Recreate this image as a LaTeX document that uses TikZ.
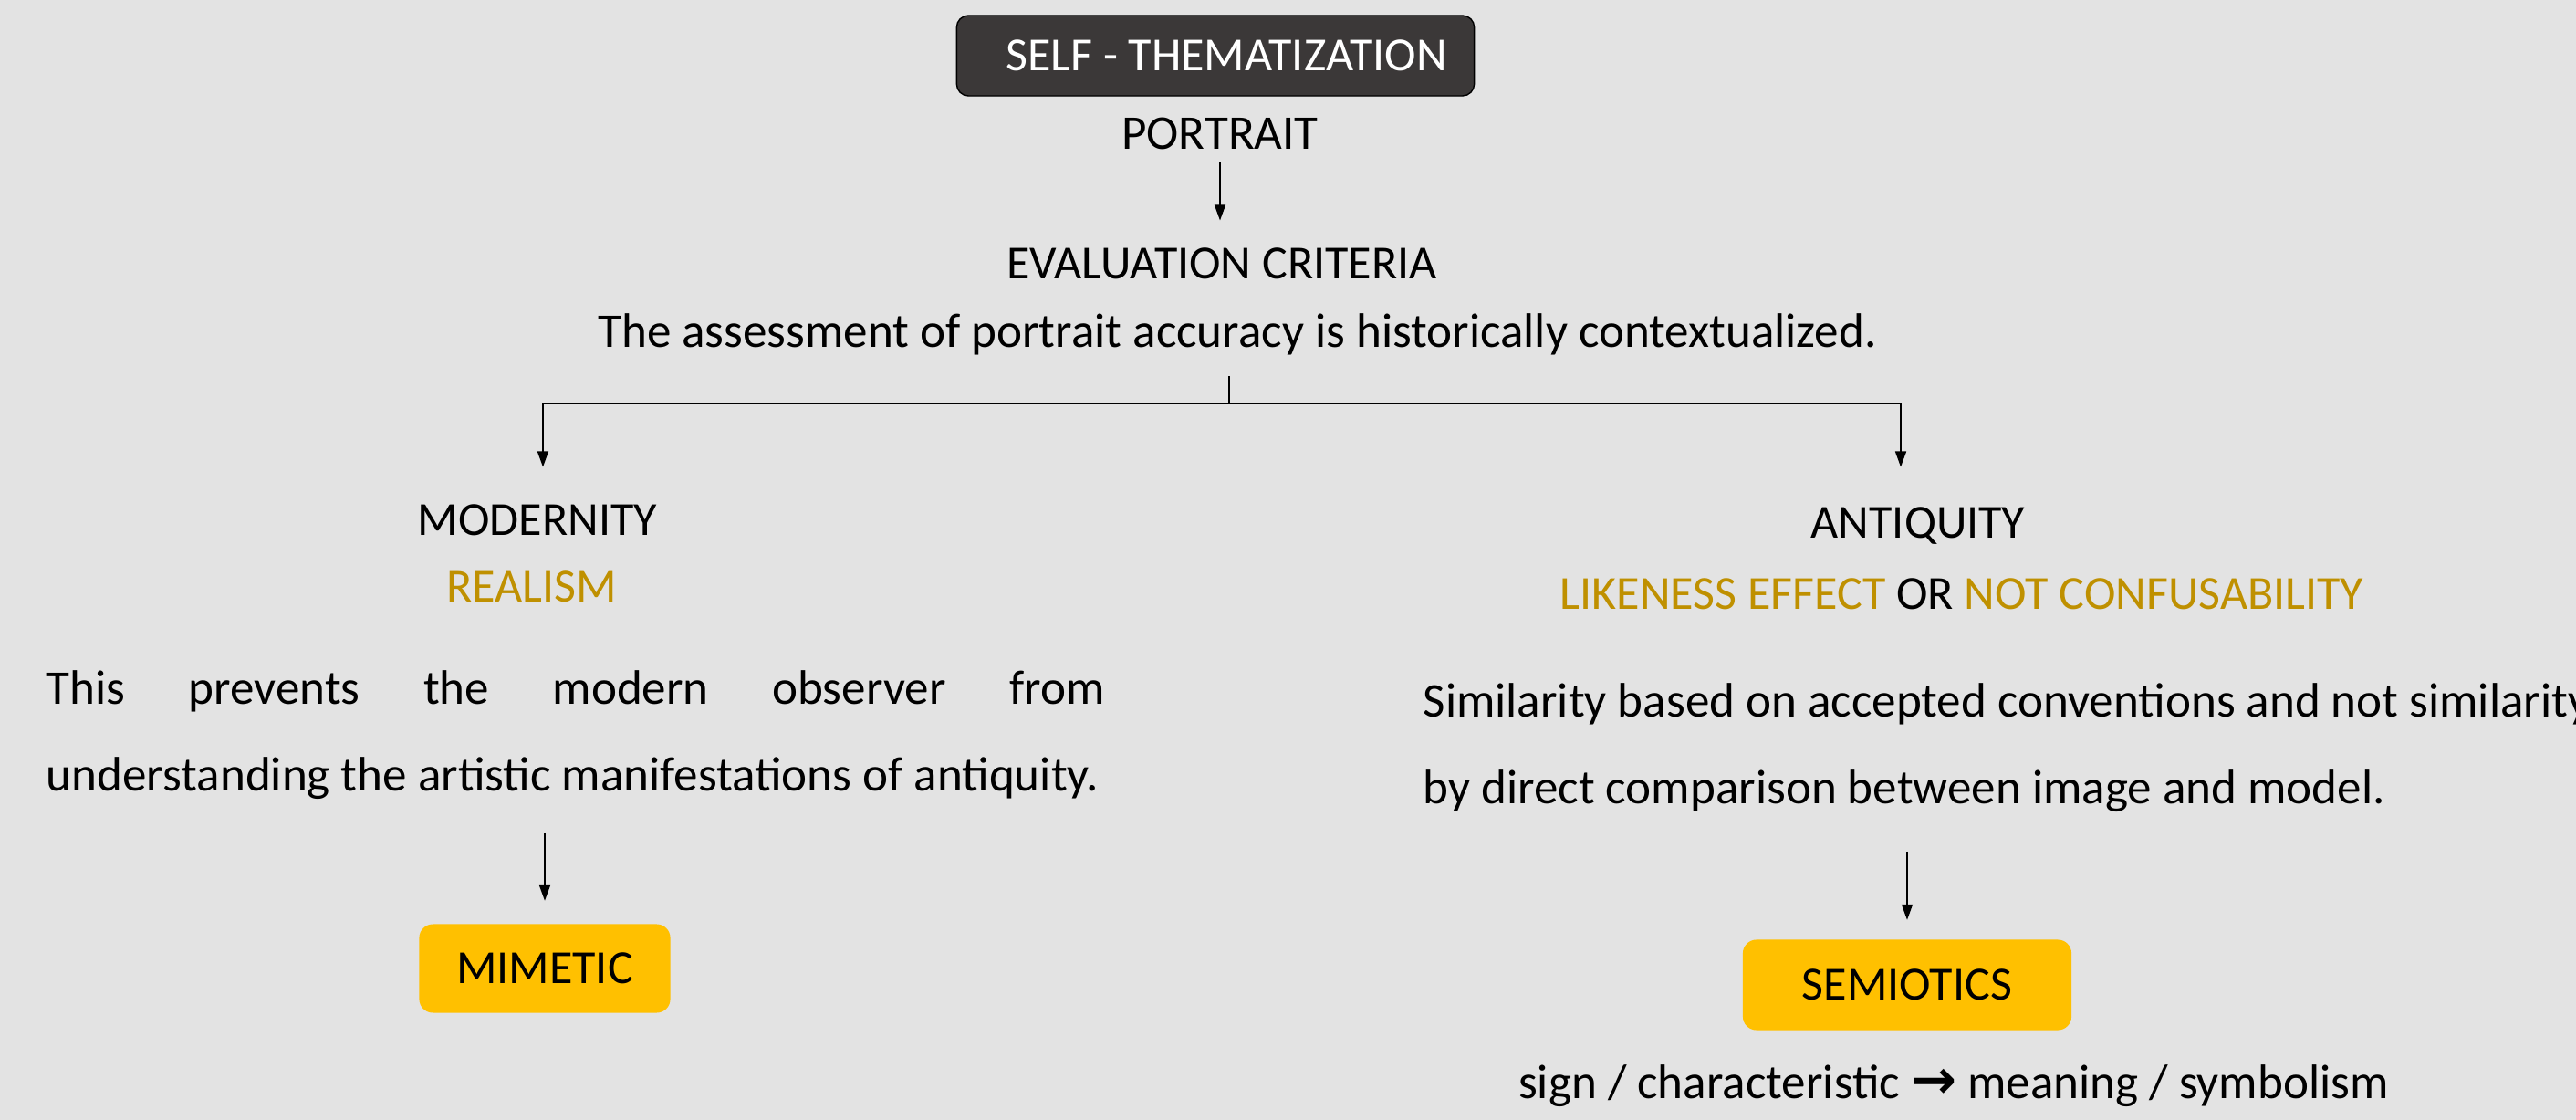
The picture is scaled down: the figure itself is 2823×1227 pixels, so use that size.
\documentclass[tikz,border=0pt]{standalone}
\usepackage{fontspec}
\setmainfont{Carlito}
\newfontfamily\symfont{DejaVu Sans}
\usetikzlibrary{arrows.meta}

\definecolor{paper}{HTML}{E3E3E3}
\definecolor{slate}{HTML}{3B3838}
\definecolor{ochre}{HTML}{BF9000}
\definecolor{amber}{HTML}{FFC000}

\tikzset{
  txt/.style={inner sep=0pt, anchor=base, font=\fontsize{15.1}{27}\selectfont},
  head/.style={txt, font=\fontsize{14.8}{27}\selectfont},
  para/.style={txt, anchor=base west, align=left},
  tagbox/.style={fill=amber, rounded corners=0.15cm, inner sep=0pt,
    font=\fontsize{14.8}{17}\selectfont},
  conn/.style={line width=0.45pt}
}

\begin{document}
\begin{tikzpicture}[x=0.01cm,y=-0.01cm,>={Triangle[length=1.7mm,width=1.2mm]}]
\fill[paper] (0,0) rectangle (2823,1227);
\useasboundingbox (0,0) rectangle (2823,1227);

% top of the tree
\node[draw=black, fill=slate, text=white, rounded corners=0.13cm,
  minimum width=5.67cm, minimum height=0.88cm, inner sep=0pt,
  font=\fontsize{14.8}{17}\selectfont] (self) at (1332,61)
  {\hspace*{0.24cm}SELF - THEMATIZATION};
\node[txt] (portrait) at (1337,163) {PORTRAIT};
\node[head] (evalc) at (1339,305) {EVALUATION CRITERIA};
\node[txt] (assess) at (1356,380)
  {The assessment of portrait accuracy is historically contextualized.};

% split into the two periods
\coordinate (split) at (1347,442);
\coordinate (lsplit) at (595,442);
\coordinate (rsplit) at (2083,442);

%branch 1
\node[head] (modern) at (589,586) {MODERNITY};
\node[head, text=ochre] (realism) at (583,659) {REALISM};
\node[para] (lpara) at (50,866)
  {\makebox[11.59cm][s]{This prevents the modern observer from}\\
   understanding the artistic manifestations of antiquity.};
\node[tagbox, minimum width=2.75cm, minimum height=0.97cm] (mimetic) at (597,1061) {MIMETIC};

%branch 2
\node[head] (antiq) at (2102,589) {ANTIQUITY};
\node[head] (likeness) at (2150,667)
  {\textcolor{ochre}{LIKENESS EFFECT} OR \textcolor{ochre}{NOT CONFUSABILITY}};
\node[para] (rpara) at (1559,880)
  {Similarity based on accepted conventions and not similarity\\
   by direct comparison between image and model.};
\node[tagbox, minimum width=3.6cm, minimum height=0.99cm] (semio) at (2090,1079) {SEMIOTICS};
\node[txt] (sign) at (2141,1203)
  {sign / characteristic {\symfont\bfseries\fontsize{17}{20}\selectfont →} meaning / symbolism};

% connectors
\draw[conn,->,shorten <=0.14cm,shorten >=0.29cm] (portrait.south) -- (portrait.south |- evalc.north);
\draw[conn] (lsplit) -- (rsplit);
\draw[conn,shorten >=0.23cm] (split) -- (split |- assess.south);
\draw[conn,->,shorten >=0.40cm] (lsplit) -- (lsplit |- modern.north);
\draw[conn,->,shorten >=0.43cm] (rsplit) -- (rsplit |- antiq.north);
\draw[conn,->,shorten <=0.37cm,shorten >=0.25cm] (mimetic.north |- lpara.south) -- (mimetic.north);
\draw[conn,->,shorten <=0.43cm,shorten >=0.21cm] (semio.north |- rpara.south) -- (semio.north);
\end{tikzpicture}
\end{document}
